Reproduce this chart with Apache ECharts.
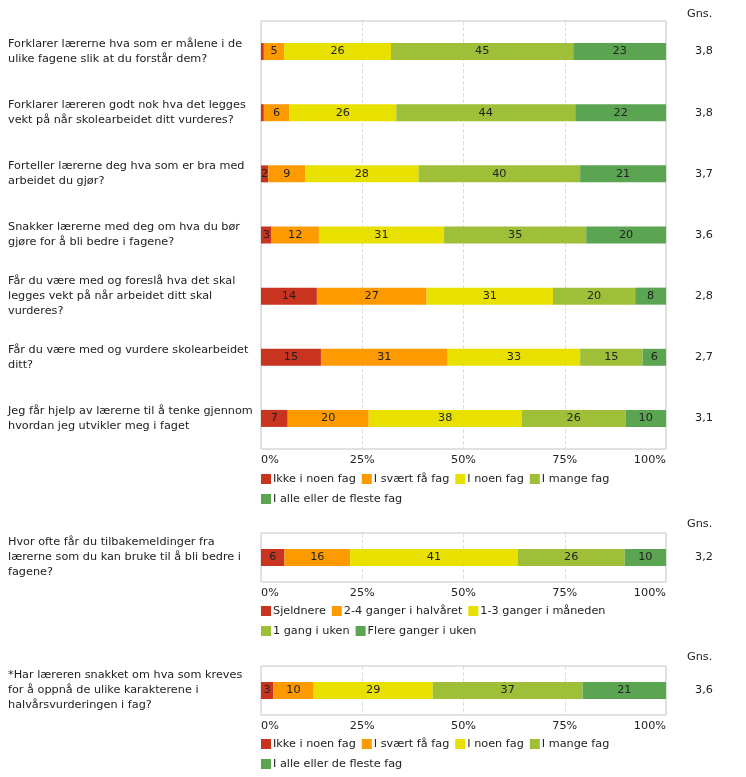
<!DOCTYPE html>
<html>
<head>
<meta charset="utf-8">
<script src="https://cdn.jsdelivr.net/npm/echarts@6/dist/echarts.min.js"></script>
<style>
html,body{margin:0;padding:0;background:#fff;}
#chart{width:746px;height:777px;}
</style>
</head>
<body>
<div id="chart"></div>
<script>
// ---------- DATA ----------
var questions1 = [
  "Forklarer lærerne hva som er målene i de\nulike fagene slik at du forstår dem?",
  "Forklarer læreren godt nok hva det legges\nvekt på når skolearbeidet ditt vurderes?",
  "Forteller lærerne deg hva som er bra med\narbeidet du gjør?",
  "Snakker lærerne med deg om hva du bør\ngjøre for å bli bedre i fagene?",
  "Får du være med og foreslå hva det skal\nlegges vekt på når arbeidet ditt skal\nvurderes?",
  "Får du være med og vurdere skolearbeidet\nditt?",
  "Jeg får hjelp av lærerne til å tenke gjennom\nhvordan jeg utvikler meg i faget"
];
var levels1 = ["Ikke i noen fag", "I svært få fag", "I noen fag", "I mange fag", "I alle eller de fleste fag"];
var p1_ikke   = [0.7, 0.7, 1.8, 2.6, 13.8, 14.8, 6.6];
var p1_svaert = [5.0, 6.3, 9.1, 11.7, 27.1, 31.3, 20.0];
var p1_noen   = [26.4, 26.4, 28.0, 30.9, 31.2, 32.7, 37.8];
var p1_mange  = [45.0, 44.2, 39.9, 35.1, 20.3, 15.4, 25.6];
var p1_alle   = [22.9, 22.4, 21.2, 19.7, 7.6, 5.8, 10.0];
var gns1 = ["3,8", "3,8", "3,7", "3,6", "2,8", "2,7", "3,1"];

var questions2 = ["Hvor ofte får du tilbakemeldinger fra\nlærerne som du kan bruke til å bli bedre i\nfagene?"];
var levels2 = ["Sjeldnere", "2-4 ganger i halvåret", "1-3 ganger i måneden", "1 gang i uken", "Flere ganger i uken"];
var p2_values = [5.8, 16.2, 41.4, 26.4, 10.2];
var gns2 = ["3,2"];

var questions3 = ["*Har læreren snakket om hva som kreves\nfor å oppnå de ulike karakterene i\nhalvårsvurderingen i fag?"];
var levels3 = ["Ikke i noen fag", "I svært få fag", "I noen fag", "I mange fag", "I alle eller de fleste fag"];
var p3_values = [3.0, 10.0, 29.4, 37.0, 20.6];
var gns3 = ["3,6"];

var xTicks = [0, 25, 50, 75, 100];

// ---------- STYLE ----------
var colors = ["#c8341f", "#fd9a00", "#e8e100", "#a0bf38", "#5aa452"];
var FONT = "DejaVu Sans";
var FS = 11.25;
var TXT = "#222";

var panels = [
  {top: 21, height: 428, cats: questions1, gns: gns1, levels: levels1,
   series: [p1_ikke, p1_svaert, p1_noen, p1_mange, p1_alle], legendTop: 472, gnsTop: 9},
  {top: 533, height: 49, cats: questions2, gns: gns2, levels: levels2,
   series: p2_values.map(function(v){return [v];}), legendTop: 604, gnsTop: 519},
  {top: 666, height: 49, cats: questions3, gns: gns3, levels: levels3,
   series: p3_values.map(function(v){return [v];}), legendTop: 737, gnsTop: 652}
];

var option = {
  animation: false,
  backgroundColor: "#fff",
  textStyle: {fontFamily: FONT, fontSize: FS, color: TXT},
  grid: [], xAxis: [], yAxis: [], series: [], legend: [], title: []
};

panels.forEach(function(p, i){
  option.grid.push({left: 261, top: p.top, width: 405, height: p.height,
    show: true, borderColor: "#c4c4c4", borderWidth: 1, containLabel: false});
  option.xAxis.push({type: "value", gridIndex: i, min: 0, max: 100, interval: 25,
    axisLine: {show: false}, axisTick: {show: false},
    splitLine: {show: true, lineStyle: {type: "dashed", color: "#dedede"}},
    axisLabel: {formatter: "{value}%", margin: 6, fontSize: FS, color: TXT, fontFamily: FONT,
      alignMinLabel: "left", alignMaxLabel: "right"}});
  option.yAxis.push({type: "category", gridIndex: i, data: p.cats, inverse: true,
    axisLine: {show: false}, axisTick: {show: false}, splitLine: {show: false},
    axisLabel: {align: "left", margin: 253, fontSize: FS, lineHeight: 15, color: TXT, fontFamily: FONT}});
  option.yAxis.push({type: "category", gridIndex: i, data: p.gns, inverse: true, position: "right",
    axisLine: {show: false}, axisTick: {show: false}, splitLine: {show: false},
    axisLabel: {align: "center", margin: 38, fontSize: FS, color: TXT, fontFamily: FONT}});
  p.series.forEach(function(arr, k){
    option.series.push({type: "bar", name: p.levels[k], xAxisIndex: i, yAxisIndex: i * 2,
      stack: "s" + i, barWidth: 17, data: arr,
      itemStyle: {color: colors[k]},
      label: {show: true, position: "inside", color: TXT, fontSize: FS, fontFamily: FONT,
        formatter: function(d){ return d.value < 1.5 ? "" : String(Math.round(d.value)); }}});
  });
  option.legend.push({left: 261, top: p.legendTop, width: 405, padding: 0,
    data: p.levels.map(function(n, k){return {name: n, itemStyle: {color: colors[k]}};}),
    icon: "rect", itemWidth: 10, itemHeight: 10, itemGap: 6,
    textStyle: {fontSize: FS, lineHeight: 14, color: TXT, fontFamily: FONT, padding: [0, 0, 0, -3]},
    selectedMode: false});
  option.title.push({text: "Gns.", left: 687, top: p.gnsTop, padding: 0,
    textStyle: {fontSize: FS, fontWeight: "normal", color: TXT, fontFamily: FONT}});
});

var chart = echarts.init(document.getElementById("chart"), null, {renderer: "canvas"});
chart.setOption(option);
</script>
</body>
</html>
